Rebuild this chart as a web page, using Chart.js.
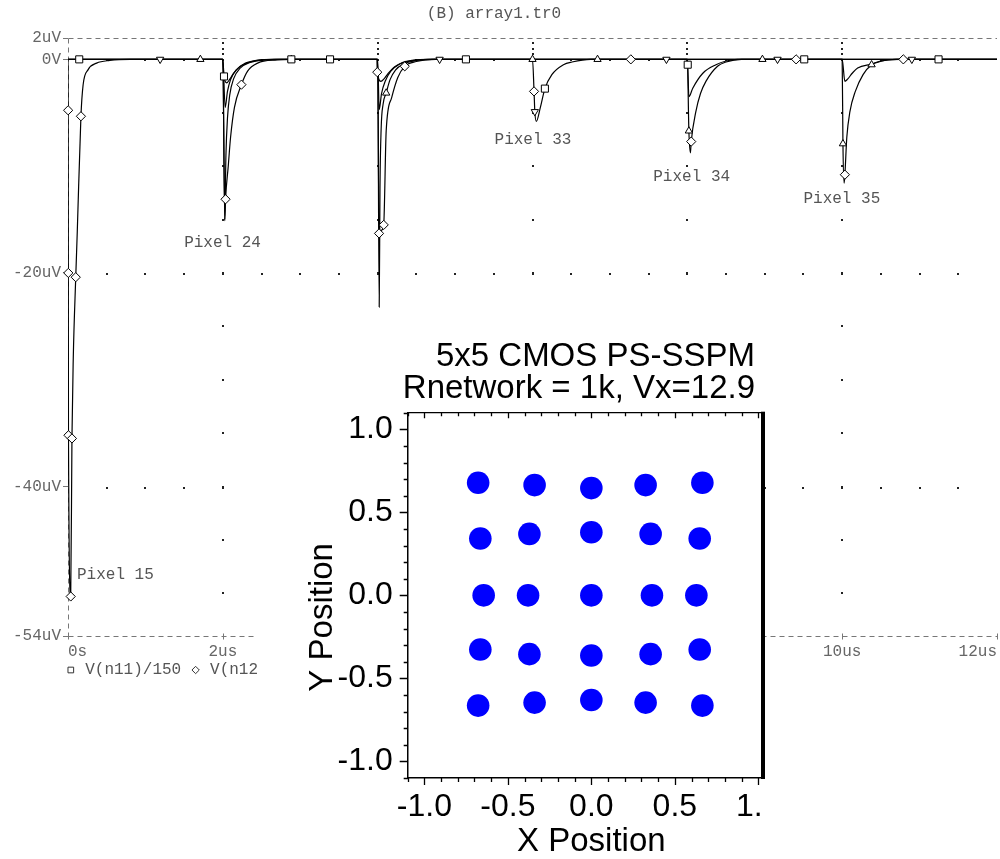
<!DOCTYPE html>
<html><head><meta charset="utf-8"><title>array1.tr0</title>
<script src="https://cdn.jsdelivr.net/npm/chart.js@4.4.1/dist/chart.umd.min.js"></script>
<style>
html,body{margin:0;padding:0;background:#fff;overflow:hidden;width:1000px;height:859px;position:relative}
#inset{position:absolute;left:257px;top:312px;width:508px;height:547px;background:#fff;overflow:hidden}
</style></head><body>
<canvas id="wave" width="1003" height="859" style="position:absolute;left:0;top:0"></canvas>
<div id="inset"><canvas id="sc" width="540" height="547" style="position:absolute;left:0;top:0"></canvas></div>
<script>
// ---------------- waveform data (time in us, voltage in uV) ----------------
const waveTitle = '(B) array1.tr0';
const seriesNames = ['V(n11)/150', 'V(n12)', 'V(n13)', 'V(n14)'];
const xTickValues = [0, 2, 4, 6, 8, 10, 12];
const xTickLabels = ['0s', '2us', '4us', '6us', '8us', '10us', '12us'];
const yTickValues = [-54, -40, -20, 0, 2];
const yTickLabels = ['-54uV', '-40uV', '-20uV', '0V', '2uV'];
const gridRowValues = [0, -20, -40];
const gridColValues = [2, 4, 6, 8, 10];

const trace1 = [[0,0],[0.002,-4.77],[0.004,-20],[0.006,-35.2],[0.035,-50.3],[0.051,-35.5],[0.068,-28],[0.1,-20.4],[0.12,-16.1],[0.167,-5.33],[0.195,-2.4],[0.26,-0.96],[0.37,-0.35],[0.54,-0.1],[0.8,0],
  [2.0,0],[2.025,-15.1],[2.035,-13.1],[2.07,-10],[2.1,-7.3],[2.15,-4.5],[2.24,-2.37],[2.32,-1.1],[2.45,-0.35],[2.7,-0.05],[2.9,0],
  [4.0,0],[4.02,-23.2],[4.03,-12],[4.045,-6.5],[4.07,-4.2],[4.11,-3.15],[4.16,-1.9],[4.23,-1.0],[4.33,-0.45],[4.5,-0.1],[4.7,0],
  [6.0,0],[6.02,-3.0],[6.03,-4.9],[6.05,-5.8],[6.1,-4.55],[6.16,-2.74],[6.25,-1.43],[6.4,-0.5],[6.51,-0.25],[6.75,0],
  [8.0,0],[8.02,-6.7],[8.04,-8.75],[8.05,-7.7],[8.11,-4.9],[8.17,-3.2],[8.24,-2.06],[8.39,-0.65],[8.5,-0.25],[8.7,0],
  [10.0,0],[10.01,-7.9],[10.025,-11.6],[10.035,-10.8],[10.06,-7.3],[10.1,-4.9],[10.17,-3.0],[10.27,-1.43],[10.38,-0.5],[10.5,-0.15],[10.7,0],[12,0]];
const trace2 = [[0,0],[2.0,0],[2.025,-15],[2.04,-9],[2.06,-5.5],[2.09,-3.3],[2.14,-1.8],[2.22,-0.85],[2.35,-0.3],[2.55,-0.05],[2.75,0],
  [4.0,0],[4.018,-16.3],[4.05,-16],[4.078,-15.5],[4.11,-6.7],[4.18,-3.6],[4.26,-1.7],[4.35,-0.65],[4.5,-0.2],[4.75,0],
  [8.0,0],[8.005,-0.5],[8.02,-3.5],[8.07,-2.7],[8.2,-1.3],[8.37,-0.5],[8.5,-0.15],[8.65,0],
  [10.0,0],[10.035,-2.06],[10.07,-1.85],[10.13,-1.3],[10.2,-0.8],[10.38,-0.45],[10.55,-0.1],[10.75,0],[12,0]];
const trace3 = [[0,0],[2.0,0],[2.03,-4.5],[2.06,-3.0],[2.1,-1.9],[2.17,-1.0],[2.28,-0.4],[2.45,-0.08],[2.65,0],
  [4.0,0],[4.02,-4.7],[4.05,-3.2],[4.1,-2.0],[4.17,-1.1],[4.27,-0.5],[4.45,-0.12],[4.65,0],[12,0]];
const trace4 = [[0,0],[2.0,0],[2.015,-1.6],[2.05,-2.2],[2.09,-1.85],[2.14,-1.3],[2.21,-0.75],[2.31,-0.35],[2.48,-0.06],[2.68,0],
  [3.99,0],[3.995,-1.2],[4.04,-2.06],[4.09,-1.75],[4.15,-1.2],[4.22,-0.7],[4.32,-0.3],[4.5,-0.05],[4.7,0],[12,0]];

const squareMarks = [[0.145,0],[2.015,-1.6],[2.885,0],[3.385,0],[5.14,0],[6.16,-2.74],[8.005,-0.5],[9.51,0],[11.245,0]];
const diamondMarks = [[0.002,-4.77],[0.004,-20],[0.006,-35.2],[0.035,-50.3],[0.051,-35.5],[0.1,-20.4],[0.167,-5.33],[2.035,-13.1],[2.24,-2.37],[3.995,-1.2],[4.018,-16.3],[4.078,-15.5],[4.35,-0.65],[6.02,-3.0],[7.27,0],[8.05,-7.7],[9.405,0],[10.035,-10.8],[10.79,0]];
const triUpMarks = [[1.71,0],[2.885,0],[4.11,-3.15],[6.0,0],[6.84,0],[8.02,-6.7],[8.97,0],[10.01,-7.9],[10.38,-0.5]];
const triDownMarks = [[1.19,0],[4.8,0],[6.03,-4.9],[7.73,0],[9.165,0],[10.9,0]];

const pixelLabels = ['Pixel 15', 'Pixel 24', 'Pixel 33', 'Pixel 34', 'Pixel 35'];
const pixelLabelT = [0.116, 1.5, 5.51, 7.56, 9.5];
const pixelLabelV = [-48.3, -17.2, -7.5, -10.95, -13.1];

// ---------------- inset scatter data ----------------
const insetTitle = ['5x5 CMOS PS-SSPM', 'Rnetwork = 1k, Vx=12.9'];
const insetXTitle = 'X Position';
const insetYTitle = 'Y Position';
const posX = [-0.678,-0.34,0,0.325,0.665, -0.665,-0.371,0,0.355,0.649, -0.645,-0.379,0,0.363,0.629, -0.665,-0.371,0,0.355,0.649, -0.678,-0.34,0,0.325,0.665];
const posY = [0.678,0.664,0.646,0.664,0.678, 0.342,0.37,0.38,0.37,0.342, 0,0,0,0,0, -0.326,-0.354,-0.362,-0.354,-0.326, -0.664,-0.646,-0.63,-0.646,-0.664];

// ---------------- styles ----------------
const FONT_MONO = '"Liberation Mono", "DejaVu Sans Mono", monospace';
const FONT_SANS = '"Liberation Sans", Arial, sans-serif';
const INSET_VISIBLE_W = 508;
const toXY = arr => arr.map(p => ({x: p[0], y: p[1]}));

const markerStyles = [
  {pts: squareMarks, style: 'rect', rot: 0, r: 5},
  {pts: diamondMarks, style: 'rectRot', rot: 0, r: 4.6},
  {pts: triUpMarks, style: 'triangle', rot: 0, r: 4.2},
  {pts: triDownMarks, style: 'triangle', rot: 180, r: 4.2}
];

const datasets = [];
markerStyles.forEach(m => datasets.push({
  data: toXY(m.pts), showLine: false, pointStyle: m.style, rotation: m.rot,
  pointRadius: m.r, pointBorderColor: '#000', pointBackgroundColor: '#fff', pointBorderWidth: 1,
  borderColor: '#000', backgroundColor: '#fff', order: 0, clip: false
}));
[trace1, trace2, trace3, trace4].forEach(tr => datasets.push({
  data: toXY(tr), borderColor: '#000', borderWidth: 1.2, pointRadius: 0, fill: false,
  cubicInterpolationMode: 'monotone', order: 1
}));

const waveDecor = {
  id: 'waveDecor',
  beforeDatasetsDraw(c) {
    const {ctx, scales: {x, y}} = c;
    ctx.save();
    // dashed frame: top (2uV), bottom (-54uV) and left (0s) edges
    ctx.strokeStyle = '#777'; ctx.lineWidth = 1; ctx.setLineDash([5, 4]);
    const x0 = Math.round(x.getPixelForValue(0)) + 0.5, x1 = x.getPixelForValue(12);
    const yt = Math.round(y.getPixelForValue(2)) + 0.5, yb = Math.round(y.getPixelForValue(-54)) + 0.5;
    ctx.beginPath();
    ctx.moveTo(x0, yt); ctx.lineTo(x1, yt);
    ctx.moveTo(x0, yb); ctx.lineTo(x1, yb);
    ctx.moveTo(x0, yt); ctx.lineTo(x0, yb);
    ctx.stroke();
    ctx.setLineDash([]);
    ctx.fillStyle = '#222';
    const dot = (px, py) => ctx.fillRect(Math.round(px) - 1, Math.round(py) - 1, 2, 2);
    for (const v of gridRowValues) for (let k = 1; k < 24; k++) dot(x.getPixelForValue(k * 0.5), y.getPixelForValue(v) + 1);
    for (const t of gridColValues) {
      const px = x.getPixelForValue(t);
      for (let v = -5; v > -54; v -= 5) dot(px, y.getPixelForValue(v));
      for (const v of [0.5, 1, 1.5]) dot(px, y.getPixelForValue(v));
    }
    // small x tick marks on the bottom edge
    ctx.strokeStyle = '#777'; ctx.beginPath();
    for (const t of xTickValues) { const px = Math.round(x.getPixelForValue(t)) + 0.5; ctx.moveTo(px, yb - 3); ctx.lineTo(px, yb + 3); }
    ctx.stroke();
    ctx.restore();
  },
  afterDraw(c) {
    const {ctx, scales: {x, y}} = c;
    ctx.save();
    ctx.font = '16px ' + FONT_MONO; ctx.fillStyle = '#555'; ctx.textBaseline = 'middle';
    ctx.textAlign = 'center'; ctx.fillText(waveTitle, 494, 14);
    ctx.textAlign = 'left';
    pixelLabels.forEach((t, i) => ctx.fillText(t, x.getPixelForValue(pixelLabelT[i]), y.getPixelForValue(pixelLabelV[i])));
    // legend
    const cw = ctx.measureText('0').width;
    let col = 0; const x0 = 66, ly = 670;
    seriesNames.forEach((name, i) => {
      const m = markerStyles[i];
      ctx.fillStyle = '#fff'; ctx.strokeStyle = '#333'; ctx.lineWidth = 1;
      Chart.helpers.drawPoint(ctx, {pointStyle: m.style, rotation: m.rot, radius: m.r * 0.8, borderWidth: 1}, x0 + (col + 0.5) * cw, ly);
      ctx.fillStyle = '#555';
      ctx.fillText(name, x0 + (col + 2) * cw, ly);
      col += name.length + 3;
    });
    ctx.restore();
  }
};

new Chart(document.getElementById('wave'), {
  type: 'line',
  data: {datasets},
  options: {
    responsive: false, animation: false, devicePixelRatio: 1, events: [],
    layout: {padding: {top: 38, left: 0, right: 0, bottom: 0}},
    plugins: {legend: {display: false}, tooltip: {enabled: false}, title: {display: false}},
    scales: {
      x: {
        type: 'linear', min: 0, max: 12,
        afterBuildTicks(s) { s.ticks = xTickValues.map(v => ({value: v})); },
        afterFit(s) { s.height = 223; s.paddingLeft = 0; s.paddingRight = 0; },
        ticks: {align: 'inner', autoSkip: false, maxRotation: 0, padding: 6, color: '#666',
          font: {family: FONT_MONO, size: 16, lineHeight: 1.2},
          callback: v => xTickLabels[xTickValues.indexOf(v)]},
        grid: {display: false, drawTicks: false},
        border: {display: false}
      },
      y: {
        type: 'linear', min: -54, max: 2,
        afterBuildTicks(s) { s.ticks = yTickValues.map(v => ({value: v})); },
        afterFit(s) { s.width = 68; },
        ticks: {autoSkip: false, padding: 2, color: '#666',
          font: {family: FONT_MONO, size: 16, lineHeight: 1.2},
          callback: v => yTickLabels[yTickValues.indexOf(v)]},
        grid: {display: true, drawOnChartArea: false, drawTicks: true, tickLength: 5, color: '#777', tickColor: '#777'},
        border: {display: false}
      }
    }
  },
  plugins: [waveDecor]
});

// ---------------- inset scatter ----------------
const insetDecor = {
  id: 'insetDecor',
  afterDraw(c) {
    const {ctx, chartArea: a, scales: {x, y}} = c;
    ctx.save();
    ctx.strokeStyle = '#000'; ctx.lineWidth = 1.3;
    ctx.beginPath();
    for (let i = -11; i <= 11; i++) {
      const v = i / 10, major = (i % 5 === 0);
      const px = Math.round(x.getPixelForValue(v)) + 0.5, py = Math.round(y.getPixelForValue(v)) + 0.5;
      ctx.moveTo(px, a.bottom); ctx.lineTo(px, a.bottom + (major ? 7 : 4));
      ctx.moveTo(px, a.top); ctx.lineTo(px, a.top + (major ? 5.5 : 3.5));
      ctx.moveTo(a.left - (major ? 8 : 4), py); ctx.lineTo(a.left, py);
    }
    ctx.moveTo(a.left, a.top); ctx.lineTo(a.right, a.top);
    ctx.stroke();
    // cropped right edge: white strip below the plot, thick black bar beside it
    ctx.fillStyle = '#fff';
    ctx.fillRect(INSET_VISIBLE_W - 4, a.bottom + 2, 40, c.height - a.bottom);
    ctx.fillStyle = '#000';
    ctx.fillRect(INSET_VISIBLE_W - 4, a.top - 1, 4, a.bottom - a.top + 2);
    ctx.font = '33px ' + FONT_SANS; ctx.textAlign = 'right'; ctx.textBaseline = 'alphabetic';
    ctx.fillText(insetTitle[0], 498, 54);
    ctx.fillText(insetTitle[1], 498, 86);
    // y title (rotated), slightly below the axis centre as in the reference
    ctx.translate(66, (a.top + a.bottom) / 2 + 22);
    ctx.rotate(-Math.PI / 2);
    ctx.textAlign = 'center'; ctx.textBaseline = 'middle';
    ctx.fillText(insetYTitle, 0, 0);
    ctx.restore();
  }
};

new Chart(document.getElementById('sc'), {
  type: 'scatter',
  data: {datasets: [{
    data: posX.map((v, i) => ({x: v, y: posY[i]})),
    pointRadius: 11.3, pointHoverRadius: 11.3, pointBorderWidth: 0,
    backgroundColor: '#0000ff', borderColor: '#0000ff'
  }]},
  options: {
    responsive: false, animation: false, devicePixelRatio: 1, events: [],
    layout: {padding: {top: 100.7, right: 22, left: 0, bottom: 0}},
    plugins: {legend: {display: false}, tooltip: {enabled: false}},
    scales: {
      x: {
        type: 'linear', min: -1.1, max: 1.1,
        afterFit(s) { s.height = 81; s.paddingLeft = 0; s.paddingRight = 0; },
        ticks: {stepSize: 0.5, includeBounds: false, autoSkip: false, maxRotation: 0, padding: 9.5, color: '#000',
          font: {family: FONT_SANS, size: 32, lineHeight: 1.2}, callback: v => Number(v).toFixed(1)},
        grid: {display: false, drawTicks: false},
        border: {display: true, color: '#000', width: 1.5},
        title: {display: true, text: insetXTitle, color: '#000', font: {family: FONT_SANS, size: 33, lineHeight: 1.0}, padding: {top: 0, bottom: 1}}
      },
      y: {
        type: 'linear', min: -1.1, max: 1.1,
        afterFit(s) { s.width = 150.7; s.paddingTop = 0; s.paddingBottom = 0; },
        ticks: {stepSize: 0.5, includeBounds: false, autoSkip: false, padding: 15, color: '#000',
          font: {family: FONT_SANS, size: 32, lineHeight: 1.2}, callback: v => Number(v).toFixed(1)},
        grid: {display: false, drawTicks: false},
        border: {display: true, color: '#000', width: 1.5},
        title: {display: false}
      }
    }
  },
  plugins: [insetDecor]
});
</script></body></html>
